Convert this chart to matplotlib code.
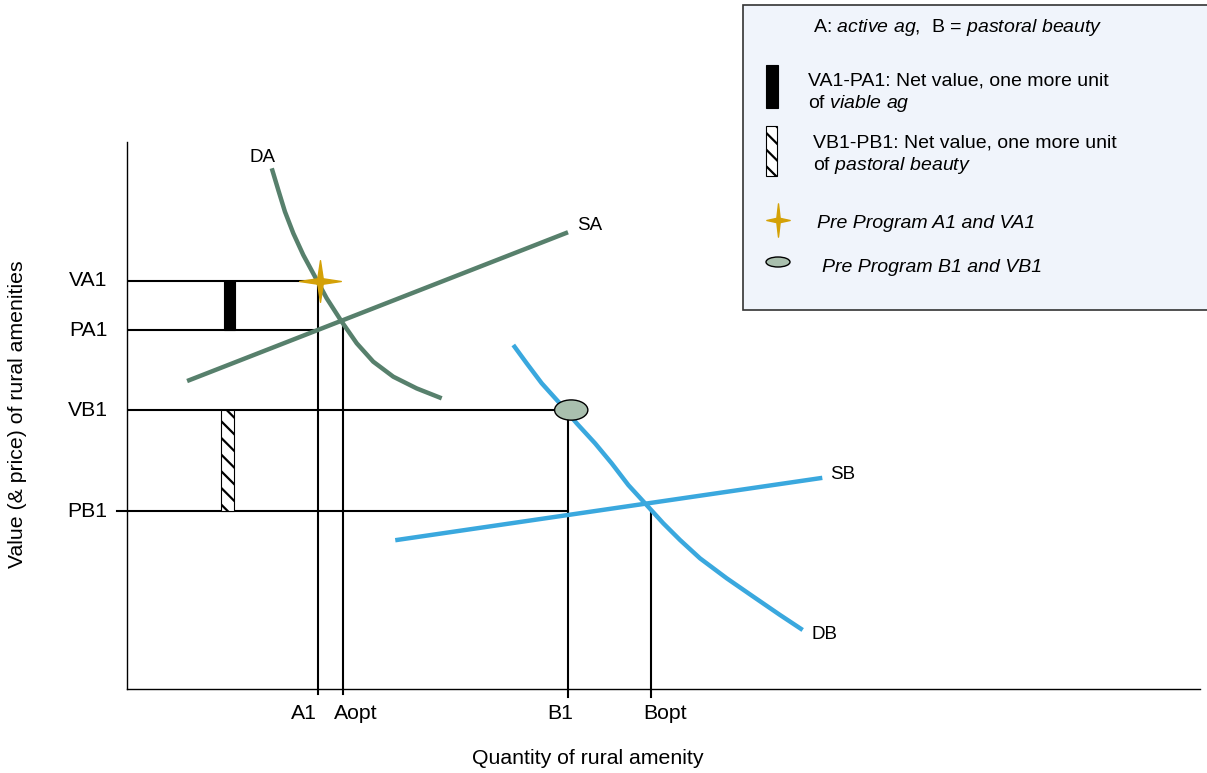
import matplotlib
matplotlib.use("Agg")
import matplotlib.pyplot as plt
from matplotlib.path import Path
from matplotlib.patches import Rectangle, Ellipse

plt.rcParams['font.family'] = ['Liberation Sans', 'DejaVu Sans']
plt.rcParams['mathtext.fontset'] = 'custom'
plt.rcParams['mathtext.rm'] = 'Liberation Sans'
plt.rcParams['mathtext.it'] = 'Liberation Sans:italic'
plt.rcParams['hatch.linewidth'] = 1.6

# curves (quantity, value) in chart units
da_x = [1.349, 1.410, 1.472, 1.550, 1.643, 1.752, 1.861, 2.001, 2.141, 2.295,
        2.482, 2.700, 2.933]
da_y = [9.519, 9.122, 8.726, 8.331, 7.934, 7.538, 7.143, 6.715, 6.320, 5.984,
        5.709, 5.495, 5.314]
sa_x = [0.56, 4.11]
sa_y = [5.63, 8.35]
db_x = [3.600, 3.725, 3.865, 4.020, 4.191, 4.362, 4.517, 4.672, 4.828, 4.998,
        5.154, 5.340, 5.589, 5.837, 6.086, 6.297]
db_y = [6.289, 5.954, 5.589, 5.252, 4.857, 4.492, 4.126, 3.729, 3.395, 3.029,
        2.724, 2.389, 2.024, 1.688, 1.353, 1.079]
sb_x = [2.50, 6.48]
sb_y = [2.72, 3.86]

# key levels
y_names = ['VA1', 'PA1', 'VB1', 'PB1']
y_vals = [7.46, 6.56, 5.10, 3.25]
x_names = ['A1', 'Aopt', 'B1', 'Bopt']
x_vals = [1.78, 2.01, 4.11, 4.88]
opt_a_y = 6.75   # DA x SA
opt_b_y = 3.27   # DB x SB

green = '#57806c'
blue = '#3aa8de'
gold = '#d4a106'
grey = '#a9bfae'

star = Path([(0, 1), (0.13, 0.13), (1, 0), (0.13, -0.13), (0, -1),
             (-0.13, -0.13), (-1, 0), (-0.13, 0.13), (0, 1)], closed=True)
star_tall = Path([(0, 1), (0.1, 0.13), (0.7, 0), (0.1, -0.13), (0, -1),
                  (-0.1, -0.13), (-0.7, 0), (-0.1, 0.13), (0, 1)], closed=True)

fig = plt.figure(figsize=(12.07, 7.73), dpi=100)
ax = fig.add_axes([127/1207, 84/773, 1073/1207, 547/773])
ax.set_xlim(0, 10)
ax.set_ylim(0, 10)
for s in ['top', 'right']:
    ax.spines[s].set_visible(False)
ax.spines['left'].set_linewidth(1.0)
ax.spines['bottom'].set_linewidth(1.0)
ax.set_xticks([])
ax.set_yticks([])

lw = 1.5
# horizontal guides
ax.plot([0, x_vals[0]], [y_vals[0]] * 2, color='black', lw=lw, zorder=2)
ax.plot([0, x_vals[0]], [y_vals[1]] * 2, color='black', lw=lw, zorder=2)
ax.plot([0, x_vals[2]], [y_vals[2]] * 2, color='black', lw=lw, zorder=2)
ax.plot([-0.09, x_vals[2]], [y_vals[3]] * 2, color='black', lw=lw, zorder=2, clip_on=False)
# vertical guides
ax.plot([x_vals[0]] * 2, [-0.09, y_vals[0]], color='black', lw=lw, zorder=2, clip_on=False)
ax.plot([x_vals[1]] * 2, [-0.09, opt_a_y], color='black', lw=lw, zorder=2, clip_on=False)
ax.plot([x_vals[2]] * 2, [-0.15, y_vals[2]], color='black', lw=lw, zorder=2, clip_on=False)
ax.plot([x_vals[3]] * 2, [-0.15, opt_b_y], color='black', lw=lw, zorder=2, clip_on=False)

# curves
for cx, cy, col in [(da_x, da_y, green), (sa_x, sa_y, green),
                    (db_x, db_y, blue), (sb_x, sb_y, blue)]:
    ax.plot(cx, cy, color=col, lw=3.2, zorder=3, solid_capstyle='butt',
            solid_joinstyle='round')

# net value bars
ax.add_patch(Rectangle((0.90, y_vals[1]), 0.11, y_vals[0] - y_vals[1],
                       facecolor='black', edgecolor='black', lw=0.8, zorder=4))
ax.add_patch(Rectangle((0.88, y_vals[3]), 0.12, y_vals[2] - y_vals[3],
                       facecolor='white', edgecolor='black', hatch='\\\\', lw=0.8, zorder=4))

# pre program points
ax.plot(x_vals[0] + 0.02, y_vals[0], marker=star, ms=30, color=gold, mec=gold, zorder=5)
ax.add_patch(Ellipse((x_vals[2] + 0.03, y_vals[2]), 0.31, 0.37,
                     facecolor=grey, edgecolor='black', lw=1.0, zorder=5))

fs = 15.3
cfs = 13.5
ax.text(1.26, 9.71, 'DA', fontsize=cfs, ha='center', va='center')
ax.text(4.31, 8.48, 'SA', fontsize=cfs, ha='center', va='center')
ax.text(6.67, 3.93, 'SB', fontsize=cfs, ha='center', va='center')
ax.text(6.50, 0.99, 'DB', fontsize=cfs, ha='center', va='center')

for name, v in zip(y_names, y_vals):
    ax.text(-0.18, v, name, fontsize=fs, ha='right', va='center')
x_lab_pos = [1.65, 2.13, 4.04, 5.01]
for name, v in zip(x_names, x_lab_pos):
    ax.text(v, -0.44, name, fontsize=fs, ha='center', va='center')

fig.text(588/1207, 1 - 759/773, 'Quantity of rural amenity', fontsize=fs,
         ha='center', va='center')
fig.text(18/1207, 1 - 414/773, 'Value (& price) of rural amenities', fontsize=fs,
         ha='center', va='center', rotation=90)

# legend box, drawn in pixel units
lg = fig.add_axes([0, 0, 1, 1], zorder=10)
lg.set_xlim(0, 1207)
lg.set_ylim(773, 0)
lg.axis('off')
lg.patch.set_alpha(0)
lg.add_patch(Rectangle((743, 5), 480, 305, facecolor='#f0f4fb', edgecolor='#333333', lw=1.2))
lfs = 14
lg.text(813, 27, r'A: $\mathit{active\ ag}$,  B = $\mathit{pastoral\ beauty}$',
        fontsize=lfs, va='center')
lg.add_patch(Rectangle((766, 65), 12, 43, facecolor='black', edgecolor='black', lw=0.8))
lg.text(808, 81, 'VA1-PA1: Net value, one more unit', fontsize=lfs, va='center')
lg.text(808, 104, r'of $\mathit{viable\ ag}$', fontsize=lfs, va='center')
lg.add_patch(Rectangle((766, 126), 11, 50, facecolor='white', edgecolor='black',
                       hatch='\\\\', lw=0.8))
lg.text(813, 143, 'VB1-PB1: Net value, one more unit', fontsize=lfs, va='center')
lg.text(813, 165, r'of $\mathit{pastoral\ beauty}$', fontsize=lfs, va='center')
lg.plot(778, 220, marker=star_tall, ms=24, color=gold, mec=gold)
lg.text(817, 223, 'Pre Program A1 and VA1', fontsize=lfs, style='italic', va='center')
lg.add_patch(Ellipse((778, 262), 24, 10, facecolor=grey, edgecolor='black', lw=1.0))
lg.text(822, 267, 'Pre Program B1 and VB1', fontsize=lfs, style='italic', va='center')

fig.savefig('out.png', dpi=100)
